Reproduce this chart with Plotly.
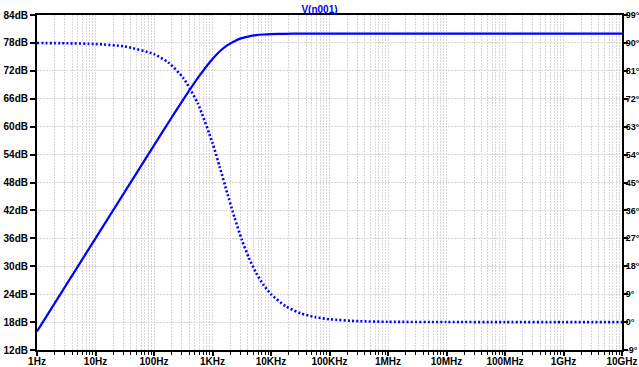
import plotly.graph_objects as go

# Frequencies (Hz) read along the x axis
freq = [1, 3.16, 10, 31.6, 100, 178, 316, 562, 1000, 1334, 1778, 2371, 3162,
        4217, 5623, 7499, 10000, 17783, 31623, 56234, 100000, 316228, 1e6,
        1e7, 1e8, 1e9, 1e10]
# Magnitude (dB), solid trace, left axis
mag_db = [16.0, 26.0, 36.0, 46.0, 55.98, 60.95, 65.83, 70.49, 74.55, 76.2, 77.46,
          78.37, 79.03, 79.42, 79.67, 79.81, 79.89, 79.96, 79.99, 80.0, 80.0,
          80.0, 80.0, 80.0, 80.0, 80.0, 80.0]
# Phase (degrees), dotted trace, right axis
phase_deg = [89.96, 89.89, 89.64, 88.86, 86.39, 83.6, 78.72, 70.47, 57.75, 49.9, 41.7,
             33.8, 26.6, 20.6, 15.7, 11.9, 9.0, 5.1, 2.87, 1.61, 0.91, 0.29, 0.09,
             0.01, 0.0, 0.0, 0.0]

x_tickvals = [1, 10, 100, 1e3, 1e4, 1e5, 1e6, 1e7, 1e8, 1e9, 1e10]
x_ticktext = ["1Hz", "10Hz", "100Hz", "1KHz", "10KHz", "100KHz", "1MHz",
              "10MHz", "100MHz", "1GHz", "10GHz"]
db_ticks = [12, 18, 24, 30, 36, 42, 48, 54, 60, 66, 72, 78, 84]
db_text = [f"{v}dB" for v in db_ticks]
deg_ticks = [-9, 0, 9, 18, 27, 36, 45, 54, 63, 72, 81, 90, 99]
deg_text = [f"{v}°" for v in deg_ticks]

BLUE = "#0000ff"
GRID = "#d6d6d6"
FONT = dict(family="Liberation Sans, Arial", size=10, color="black", weight="bold")
FONT_R = dict(family="Liberation Sans, Arial", size=9, color="black", weight="bold")

fig = go.Figure()
fig.add_trace(go.Scatter(x=freq, y=mag_db, mode="lines", line=dict(color=BLUE, width=2.2, shape="spline", smoothing=0.6),
                         yaxis="y", showlegend=False, hoverinfo="skip"))
fig.add_trace(go.Scatter(x=freq, y=phase_deg, mode="lines", line=dict(color=BLUE, width=2.6, dash="2px,2.2px", shape="spline", smoothing=0.6),
                         yaxis="y2", showlegend=False, hoverinfo="skip"))

fig.update_layout(
    width=639, height=367,
    margin=dict(l=37, r=17, t=15, b=17, autoexpand=False),
    paper_bgcolor="white", plot_bgcolor="white",
    font=FONT,
    title=dict(text="V(n001)", x=0.5, xanchor="center", y=1 - 9 / 367, yanchor="middle",
               font=dict(family="Liberation Sans, Arial", size=10, color=BLUE, weight="bold")),
    xaxis=dict(type="log", range=[0, 10], tickvals=x_tickvals, ticktext=x_ticktext,
               automargin=False, ticklabelstandoff=-3,
               showgrid=True, gridcolor=GRID, griddash="2px,1px", gridwidth=1,
               ticks="outside", ticklen=4, tickwidth=1.5, tickcolor="black",
               showline=True, linecolor="black", linewidth=2, mirror=True,
               zeroline=False, tickfont=FONT,
               minor=dict(dtick="D1", showgrid=True, gridcolor=GRID, griddash="2px,1px",
                          gridwidth=1, ticks="outside", ticklen=3, tickcolor="black", tickwidth=1)),
    yaxis=dict(range=[12, 84], tickvals=db_ticks, ticktext=db_text, automargin=False,
               showgrid=True, gridcolor=GRID, griddash="2px,1px", gridwidth=1,
               ticks="outside", ticklen=5, tickwidth=1.5, tickcolor="black",
               showline=True, linecolor="black", linewidth=2, zeroline=False, tickfont=FONT),
    yaxis2=dict(range=[-9, 99], tickvals=deg_ticks, ticktext=deg_text, overlaying="y",
                automargin=False, ticklabelstandoff=-4,
                side="right", showgrid=False, ticks="outside", ticklen=4, tickwidth=1.5,
                tickcolor="black", showline=True, linecolor="black", linewidth=2,
                zeroline=False, tickfont=FONT_R),
)

fig.write_html("out.html")
